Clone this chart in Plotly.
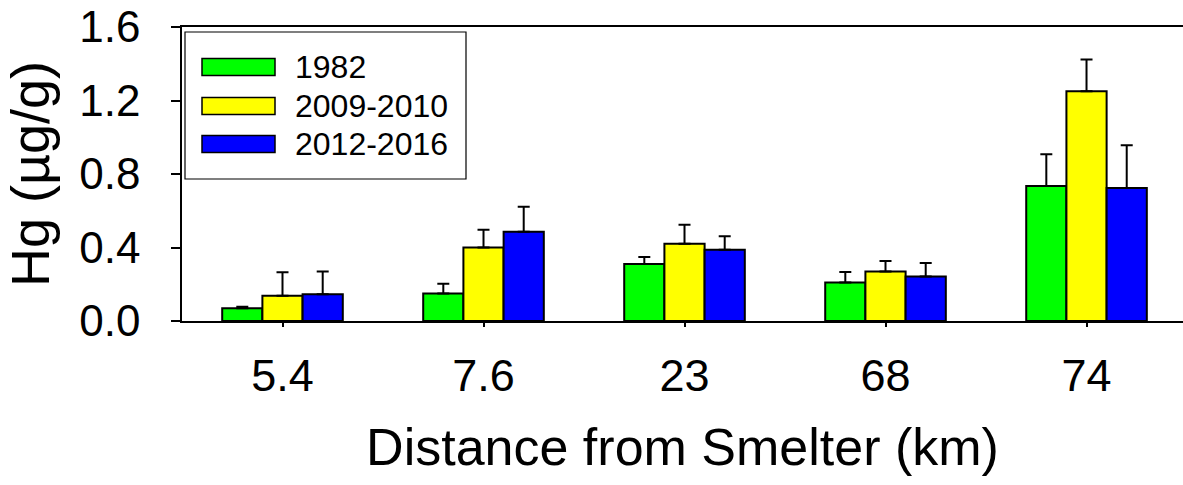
import plotly.graph_objects as go

# Sampling sites (distance from the smelter, km)
distances = ["5.4", "7.6", "23", "68", "74"]

# Series: survey periods
series_names = ["1982", "2009-2010", "2012-2016"]
series_colors = ["#00FF00", "#FFFF00", "#0000FF"]

# Mean Hg concentration (µg/g) per site
hg_1982 = [0.07, 0.15, 0.31, 0.21, 0.735]
hg_2009_2010 = [0.138, 0.40, 0.42, 0.27, 1.25]
hg_2012_2016 = [0.145, 0.486, 0.388, 0.242, 0.724]

# Upper error (standard deviation) per site
err_1982 = [0.008, 0.053, 0.038, 0.057, 0.172]
err_2009_2010 = [0.127, 0.097, 0.104, 0.057, 0.173]
err_2012_2016 = [0.125, 0.136, 0.073, 0.074, 0.232]

y_ticks = [0.0, 0.4, 0.8, 1.2, 1.6]
y_tick_text = ["0.0", "0.4", "0.8", "1.2", "1.6"]

values = [hg_1982, hg_2009_2010, hg_2012_2016]
errors = [err_1982, err_2009_2010, err_2012_2016]

FONT = "Arial, 'Liberation Sans', sans-serif"
W, H = 1183, 485
ML, MT, MB, MR = 182, 27, 164, 0

fig = go.Figure()
for name, color, vals, errs in zip(series_names, series_colors, values, errors):
    fig.add_trace(go.Bar(
        x=distances,
        y=vals,
        name=name,
        marker=dict(color=color, line=dict(color="black", width=2)),
        error_y=dict(type="data", symmetric=False, array=errs,
                     arrayminus=[0] * len(errs), color="black",
                     thickness=2, width=6),
        showlegend=False,
    ))

# Pixel helpers for the hand-drawn legend box
pw = W - ML - MR
ph = H - MT - MB


def px_x(p):
    return (p - ML) / pw


def px_y(p):
    return (H - MB - p) / ph


shapes = [dict(type="rect", xref="paper", yref="paper",
               x0=px_x(185), x1=px_x(466), y0=px_y(179), y1=px_y(32),
               line=dict(color="black", width=1.2), fillcolor="white",
               layer="above")]
annotations = []
row_centers = [67, 106, 144]
for name, color, cy in zip(series_names, series_colors, row_centers):
    shapes.append(dict(type="rect", xref="paper", yref="paper",
                       x0=px_x(202), x1=px_x(275),
                       y0=px_y(cy + 8.5), y1=px_y(cy - 8.5),
                       line=dict(color="black", width=1.5),
                       fillcolor=color, layer="above"))
    annotations.append(dict(xref="paper", yref="paper", x=px_x(293),
                            y=px_y(cy), text=name, showarrow=False,
                            xanchor="left", yanchor="middle",
                            font=dict(family=FONT, size=32, color="black")))

fig.update_layout(
    width=W, height=H,
    margin=dict(l=ML, r=MR, t=MT, b=MB, pad=0),
    paper_bgcolor="white", plot_bgcolor="white",
    barmode="group", bargap=0.4, bargroupgap=0,
    font=dict(family=FONT, color="black"),
    shapes=shapes, annotations=annotations,
    xaxis=dict(
        type="category", range=[-0.5, 4.48],
        showline=True, linecolor="black", linewidth=1.5, mirror=True,
        ticks="outside", ticklen=4, tickwidth=1.5, tickcolor="black",
        tickfont=dict(family=FONT, size=45, color="black"),
        ticklabelstandoff=10,
        showgrid=False, zeroline=False,
        title=dict(text="Distance from Smelter (km)", standoff=29,
                   font=dict(family=FONT, size=52, color="black")),
    ),
    yaxis=dict(
        range=[0, 1.6],
        tickvals=y_ticks, ticktext=y_tick_text,
        showline=True, linecolor="black", linewidth=1.5, mirror=False,
        ticks="outside", ticklen=9, tickwidth=1.5, tickcolor="black",
        tickfont=dict(family=FONT, size=44, color="black"),
        ticklabelstandoff=22,
        showgrid=False, zeroline=False,
        title=dict(text="Hg (µg/g)", standoff=22,
                   font=dict(family=FONT, size=54, color="black")),
    ),
)

fig.write_html("out.html")
